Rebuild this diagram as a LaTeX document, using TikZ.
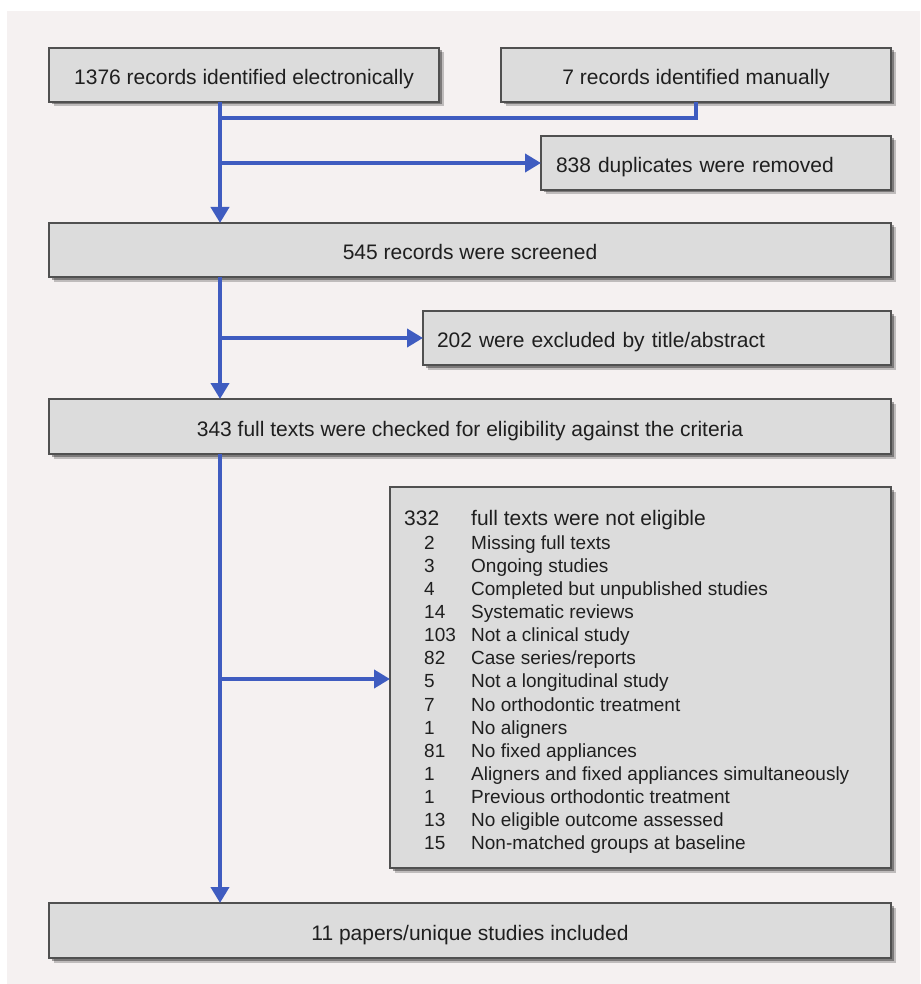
\documentclass[tikz,border=0pt]{standalone}
\usepackage{fontspec}
\setmainfont{Liberation Sans}
\usetikzlibrary{arrows.meta,shadows,calc}
\definecolor{bgc}{RGB}{245,241,241}
\definecolor{boxfill}{RGB}{220,220,220}
\definecolor{boxline}{RGB}{80,80,80}
\definecolor{flowblue}{RGB}{63,92,192}
\tikzset{
  box/.style={rectangle, draw=boxline, line width=1.6pt, fill=boxfill,
    inner sep=0pt, outer sep=0pt, minimum height=54pt,
    text height=19pt, text depth=0pt,
    font=\fontsize{21pt}{25pt}\selectfont, text=black!88,
    general shadow={fill=black, opacity=0.22, shadow xshift=4.5pt, shadow yshift=-4.5pt},
    general shadow={fill=black, opacity=0.35, shadow xshift=2.5pt, shadow yshift=-2.5pt}},
  flow/.style={draw=flowblue, line width=4.5pt},
  flowarrow/.style={flow, -{Triangle[width=18pt,length=16pt]}},
  numtxt/.style={anchor=base west, inner sep=0pt, text=black!88, font=\fontsize{19pt}{22pt}\selectfont},
  headtxt/.style={anchor=base west, inner sep=0pt, text=black!88, font=\fontsize{21pt}{25pt}\selectfont}
}
\begin{document}
\begin{tikzpicture}[x=1pt,y=-1pt]
\useasboundingbox (0,0) rectangle (920,984);
\fill[white] (0,0) rectangle (920,984);
\fill[bgc] (7,11) rectangle (920,984);

% boxes
\node[box, minimum width=390pt] (b1) at (244,75) {1376 records identified electronically};
\node[box, minimum width=390pt] (b2) at (696,75) {7 records identified manually};
\node[box, minimum width=350pt, text width=320pt, align=left] (b3) at (716,163) {838 duplicates were removed};
\node[box, minimum width=842pt] (b4) at (470,250) {545 records were screened};
\node[box, minimum width=468pt, text width=440pt, align=left] (b5) at (657,338) {202 were excluded by title/abstract};
\node[box, minimum width=842pt, minimum height=55pt] (b6) at (470,426.5) {343 full texts were checked for eligibility against the criteria};
\node[box, minimum width=501pt, minimum height=381pt] (b7) at (640.5,677.5) {};
\node[box, minimum width=842pt, minimum height=55pt] (b8) at (470,930.5) {11 papers/unique studies included};

% list inside the exclusion box
\node[headtxt] (n1) at (404,525.5) {332};
\node[headtxt] (t1) at (471,525.5) {full texts were not eligible};
\foreach \n/\t [count=\i from 0] in {
  2/{Missing full texts},
  3/{Ongoing studies},
  4/{Completed but unpublished studies},
  14/{Systematic reviews},
  103/{Not a clinical study},
  82/{Case series/reports},
  5/{Not a longitudinal study},
  7/{No orthodontic treatment},
  1/{No aligners},
  81/{No fixed appliances},
  1/{Aligners and fixed appliances simultaneously},
  1/{Previous orthodontic treatment},
  13/{No eligible outcome assessed},
  15/{Non-matched groups at baseline}}{
  \node[numtxt] (n\i x) at (424,{549+\i*23.15}) {\n};
  \node[numtxt] (t\i x) at (471,{549+\i*23.15}) {\t};
}

% connectors
\coordinate (x1) at (220,0);
\coordinate (m) at (220,118);
\draw[flow, line join=miter] (b2.south) -- (b2.south |- m) -- (m);
\draw[flowarrow] (b1.south -| x1) -- (b4.north -| x1);
\draw[flowarrow] (x1 |- b3.west) -- (b3.west);
\draw[flowarrow] (b4.south -| x1) -- (b6.north -| x1);
\draw[flowarrow] (x1 |- b5.west) -- (b5.west);
\draw[flowarrow] (b6.south -| x1) -- (b8.north -| x1);
\draw[flowarrow] ($(x1 |- b7.west)+(0,1.5)$) -- ($(b7.west)+(0,1.5)$);
\end{tikzpicture}
\end{document}
